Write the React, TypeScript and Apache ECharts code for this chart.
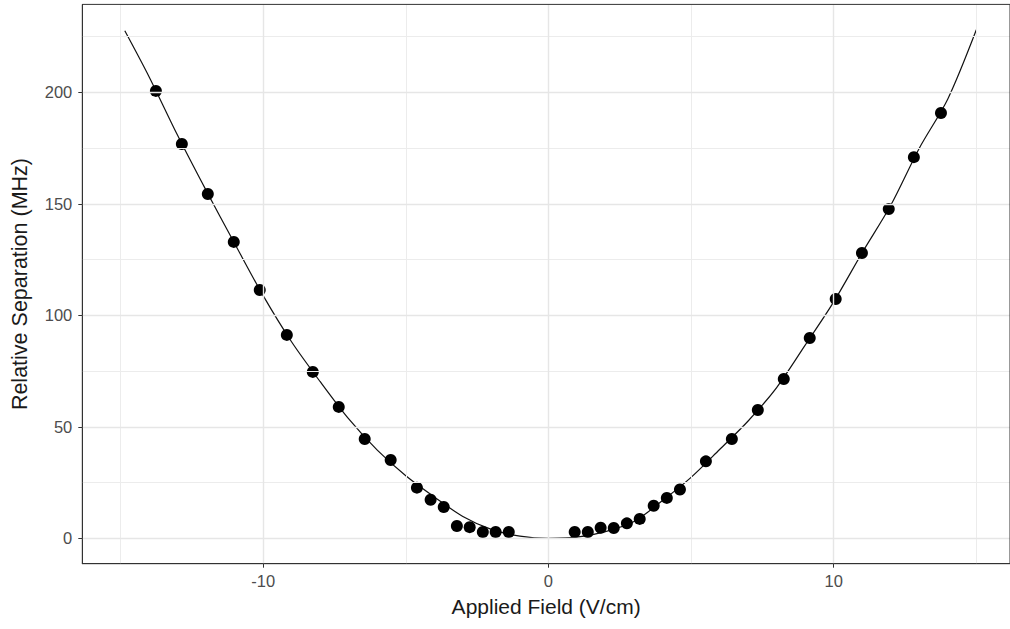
import React, { useEffect, useRef } from "react";
import * as echarts from "echarts";

// Measured points (Applied Field V/cm, Relative Separation MHz)
const fieldPts = [-13.76, -12.85, -11.94, -11.03, -10.12, -9.17, -8.26, -7.35, -6.44, -5.53, -4.61, -4.13, -3.67, -3.21, -2.76, -2.3, -1.85, -1.39, 0.92, 1.38, 1.83, 2.29, 2.75, 3.2, 3.69, 4.15, 4.61, 5.52, 6.43, 7.34, 8.25, 9.16, 10.07, 10.99, 11.93, 12.81, 13.76];
const sepPts = [200.6, 176.8, 154.4, 132.9, 111.3, 91.2, 74.6, 58.9, 44.5, 35.1, 22.7, 17.3, 14.0, 5.5, 5.0, 2.8, 2.8, 2.8, 2.8, 2.8, 4.7, 4.6, 6.7, 8.7, 14.6, 18.1, 21.9, 34.5, 44.5, 57.5, 71.4, 89.8, 107.3, 127.9, 147.6, 170.9, 190.7];

// Fitted curve
const fitX = [-14.85, -14, -13, -12, -11, -10, -9, -8, -7, -6, -5, -4, -3, -2, -1, 0, 1, 2, 3, 4, 5, 6, 7, 8, 9, 10, 11, 12, 13, 14, 15];
const fitY = [227.6, 207, 180.7, 156, 132.2, 108.8, 88, 70.2, 53.5, 39.5, 28, 18.5, 9.8, 4.0, 1.0, 0, 0.5, 3.0, 7.5, 16.9, 27.3, 39.8, 52.6, 67.6, 86.6, 106, 128.1, 149.3, 174.9, 197, 228];

// Ticks / grid
const xMajor = [-10, 0, 10];
const xMinor = [-15, -5, 5, 15];
const yMajor = [0, 50, 100, 150, 200];
const yMinor = [25, 75, 125, 175, 225];

const FONT = "Liberation Sans, Arial, sans-serif";

export default function App() {
  const ref = useRef<HTMLDivElement>(null);
  useEffect(() => {
    if (!ref.current) return;
    const chart = echarts.init(ref.current, null, { renderer: "svg" });
    const gridMajor = { color: "#e6e6e6", width: 1.4, type: "solid" };
    const gridMinor = { color: "#ececec", width: 1, type: "solid" };
    const mkLines = (axis: "xAxis" | "yAxis", vals: number[], style: any) => ({
      type: "line",
      data: [],
      silent: true,
      z: 1,
      markLine: {
        silent: true,
        symbol: ["none", "none"],
        label: { show: false },
        lineStyle: style,
        animation: false,
        data: vals.map((v) => ({ [axis]: v })),
      },
    });
    chart.setOption({
      animation: false,
      backgroundColor: "#ffffff",
      textStyle: { fontFamily: FONT },
      grid: {
        left: 82.3,
        top: 4.4,
        right: 0,
        bottom: 65.3,
        show: true,
        borderColor: "#333333",
        borderWidth: 1,
        backgroundColor: "transparent",
        z: 10,
      },
      xAxis: {
        type: "value",
        min: -16.34,
        max: 16.18,
        name: "Applied Field (V/cm)",
        nameLocation: "middle",
        nameGap: 32,
        nameTextStyle: { color: "#1a1a1a", fontSize: 21, fontFamily: FONT },
        splitLine: { show: false },
        axisLine: { show: true, onZero: false, lineStyle: { color: "#333333", width: 1 } },
        axisTick: { show: true, customValues: xMajor, length: 4, lineStyle: { color: "#333333" } },
        axisLabel: { customValues: xMajor, color: "#4d4d4d", fontSize: 16.5, margin: 9, fontFamily: FONT },
      },
      yAxis: {
        type: "value",
        min: -11.4,
        max: 239.4,
        name: "Relative Separation (MHz)",
        nameLocation: "middle",
        nameGap: 51,
        nameTextStyle: { color: "#1a1a1a", fontSize: 21.5, fontFamily: FONT },
        splitLine: { show: false },
        axisLine: { show: true, onZero: false, lineStyle: { color: "#333333", width: 1 } },
        axisTick: { show: true, customValues: yMajor, length: 4, lineStyle: { color: "#333333" } },
        axisLabel: { customValues: yMajor, color: "#4d4d4d", fontSize: 16.5, margin: 10, fontFamily: FONT },
      },
      series: [
        mkLines("xAxis", xMinor, gridMinor),
        mkLines("yAxis", yMinor, gridMinor),
        mkLines("xAxis", xMajor, gridMajor),
        mkLines("yAxis", yMajor, gridMajor),
        {
          type: "line",
          data: fitX.map((x, i) => [x, fitY[i]]),
          smooth: 0.3,
          showSymbol: false,
          z: 3,
          lineStyle: { color: "#111111", width: 1.2 },
        },
        {
          type: "scatter",
          data: fieldPts.map((x, i) => [x, sepPts[i]]),
          symbol: "circle",
          symbolSize: 12,
          z: 4,
          itemStyle: { color: "#000000", opacity: 1 },
        },
      ],
    });
    return () => chart.dispose();
  }, []);
  return (
    <div
      ref={ref}
      style={{ position: "absolute", left: 0, top: 0, width: 1010, height: 629, background: "#fff" }}
    />
  );
}
